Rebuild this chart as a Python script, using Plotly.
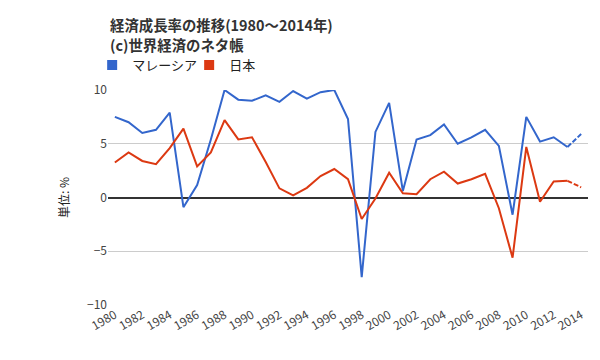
import plotly.graph_objects as go

years = list(range(1980, 2015))
malaysia = [7.5, 7.0, 6.0, 6.3, 7.9, -0.9, 1.15, 5.4, 10.0, 9.1, 9.0, 9.5, 8.9, 9.9, 9.2, 9.8, 10.0, 7.3,
            -7.4, 6.1, 8.8, 0.6, 5.4, 5.8, 6.8, 5.0, 5.6, 6.3, 4.8, -1.6, 7.5, 5.2, 5.6, 4.7, 5.9]
japan = [3.25, 4.2, 3.4, 3.1, 4.6, 6.4, 2.9, 4.2, 7.2, 5.4, 5.6, 3.3, 0.85, 0.2, 0.9, 2.0, 2.65, 1.7,
         -2.0, -0.1, 2.3, 0.4, 0.3, 1.7, 2.4, 1.3, 1.7, 2.2, -1.0, -5.6, 4.7, -0.4, 1.5, 1.55, 0.95]

names = ["マレーシア", "日本"]
colors = ["#3366cc", "#dc3912"]
series = [malaysia, japan]

title1 = "経済成長率の推移(1980～2014年)"
title2 = "(c)世界経済のネタ帳"
ytitle = "単位: %"

jp_font = "Noto Sans CJK JP, Liberation Sans, sans-serif"

fig = go.Figure()
for name, col, vals in zip(names, colors, series):
    fig.add_trace(go.Scatter(x=years[:-1], y=vals[:-1], mode="lines", line=dict(color=col, width=2),
                             showlegend=False, hoverinfo="skip"))
    fig.add_trace(go.Scatter(x=years[-2:], y=vals[-2:], mode="lines",
                             line=dict(color=col, width=2, dash="5px,2px"),
                             showlegend=False, hoverinfo="skip"))
for name, col in zip(names, colors):
    fig.add_trace(go.Scatter(x=[None], y=[None], mode="markers", name=name,
                             marker=dict(symbol="square", size=10, color=col)))

# page body has an 8px default margin: figure is sized/placed to compensate
fig.update_layout(
    width=592, height=352,
    margin=dict(l=100, r=12, t=82, b=55, autoexpand=False),
    plot_bgcolor="white", paper_bgcolor="white",
    font=dict(family=jp_font, size=12, color="#444"),
    legend=dict(orientation="h", x=-0.033, xanchor="left", y=1.116, yanchor="middle",
                font=dict(size=13, color="#222", family=jp_font),
                entrywidth=52, entrywidthmode="pixels", itemwidth=30,
                bgcolor="rgba(0,0,0,0)"),
    annotations=[
        dict(text="<b>" + title1 + "</b>", xref="paper", yref="paper", x=0, y=1.305,
             xanchor="left", yanchor="middle", showarrow=False,
             font=dict(size=14.4, color="#333", family=jp_font)),
        dict(text="<b>" + title2 + "</b>", xref="paper", yref="paper", x=0, y=1.212,
             xanchor="left", yanchor="middle", showarrow=False,
             font=dict(size=14.4, color="#333", family=jp_font)),
    ],
)
fig.update_xaxes(range=[1979.5, 2014.5], tickmode="array", tickvals=years[::2],
                 ticktext=[str(y) for y in years[::2]], tickangle=-30,
                 showgrid=False, zeroline=False, showline=False, ticks="",
                 tickfont=dict(size=12, color="#444"), automargin=False)
fig.update_yaxes(range=[-10, 10], tickvals=[-10, -5, 0, 5, 10], showgrid=True,
                 gridcolor="#cccccc", gridwidth=1, zeroline=True, zerolinecolor="#333333",
                 zerolinewidth=1.5, ticks="", showline=False, automargin=False,
                 tickfont=dict(size=12, color="#444"),
                 title=dict(text=ytitle, font=dict(size=12, color="#222"), standoff=14))

fig.write_html("out.html")
